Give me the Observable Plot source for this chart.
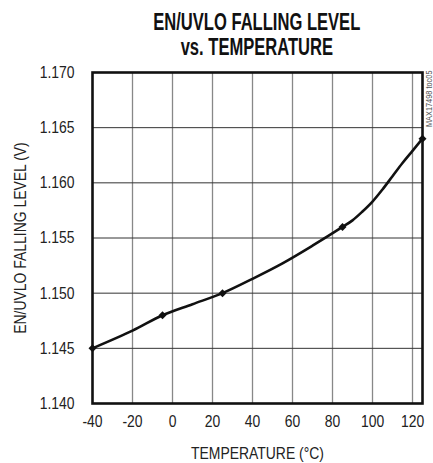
<!DOCTYPE html>
<html>
<head>
<meta charset="utf-8">
<script src="https://cdn.jsdelivr.net/npm/d3@7"></script>
<script src="https://cdn.jsdelivr.net/npm/@observablehq/plot@0.6"></script>
<style>
  html, body { margin: 0; padding: 0; background: #fff; }
  body { width: 433px; height: 463px; overflow: hidden; }
  #title {
    box-sizing: border-box;
    height: 60px;
    padding: 10px 0 0 80px;
    font-family: "Liberation Sans", Arial, sans-serif;
    font-weight: bold;
    font-size: 23px;
    line-height: 25px;
    color: #111;
  }
  #title div { text-align: center; white-space: nowrap; }
  #title span { display: inline-block; transform: scaleX(0.72); transform-origin: 50% 50%; }
  #chart svg { display: block; }
</style>
</head>
<body>
<div id="title"><div><span>EN/UVLO FALLING LEVEL</span></div><div><span>vs. TEMPERATURE</span></div></div>
<div id="chart"></div>
<script>
// Smooth curve (temperature °C, level V)
const curveTemp = [-40, -20, -5, 10, 25, 40, 55, 70, 85, 90, 95, 100, 105, 110, 115, 120, 125];
const curveVolt = [1.1450, 1.1466, 1.1480, 1.1490, 1.1500, 1.1513, 1.1527, 1.1543, 1.1560, 1.1566, 1.1574, 1.1583, 1.1594, 1.1606, 1.1618, 1.1629, 1.1640];
// Measured points (diamond markers)
const markerTemp = [-40, -5, 25, 85, 125];
const markerVolt = [1.145, 1.148, 1.150, 1.156, 1.164];
// Axis ticks
const xTicks = [-40, -20, 0, 20, 40, 60, 80, 100, 120];
const yTicks = [1.140, 1.145, 1.150, 1.155, 1.160, 1.165, 1.170];
const watermark = ["MAX17498 toc05"];

const curve = curveTemp.map((t, i) => ({t, v: curveVolt[i]}));
const markers = markerTemp.map((t, i) => ({t, v: markerVolt[i]}));

const font = '"Liberation Sans", Arial, sans-serif';

const chart = Plot.plot({
  width: 433,
  height: 403,
  marginLeft: 92,
  marginRight: 11,
  marginTop: 12,
  marginBottom: 60,
  style: {fontFamily: font, fontSize: "17px", color: "#222", background: "#fff"},
  x: {domain: [-40, 125]},
  y: {domain: [1.140, 1.170]},
  marks: [
    Plot.ruleX(xTicks.filter(d => d > -40), {stroke: "#888", strokeWidth: 1.3}),
    Plot.ruleY(yTicks.filter(d => d > 1.140 && d < 1.170), {stroke: "#333", strokeWidth: 1}),
    Plot.line(curve, {x: "t", y: "v", curve: "catmull-rom", stroke: "#111", strokeWidth: 2.6}),
    Plot.dot(markers, {x: "t", y: "v", symbol: "diamond2", r: 3.6, fill: "#111", stroke: "none"}),
    Plot.frame({stroke: "#111", strokeWidth: 2.6}),
    Plot.axisX({ticks: xTicks, tickSize: 0, tickPadding: 11, tickFormat: d => String(d),
      label: "TEMPERATURE (°C)", labelAnchor: "center", labelArrow: "none", labelOffset: 55, fontSize: 17}),
    Plot.axisY({ticks: yTicks, tickSize: 0, tickPadding: 18, tickFormat: d3.format(".3f"),
      label: "EN/UVLO FALLING LEVEL (V)", labelAnchor: "center", labelArrow: "none", labelOffset: 79, fontSize: 17}),
    Plot.text(watermark, {frameAnchor: "top-right", text: d => d, rotate: -90, textAnchor: "end",
      dx: 3, dy: -2, fontSize: 9, fill: "#555"})
  ]
});

// Condense all texts horizontally (narrow typeface look), about each text's anchor
chart.querySelectorAll("text").forEach(t => {
  const tr = t.getAttribute("transform");
  if (tr) {
    t.setAttribute("transform", tr + " scale(0.82,1)");
  } else {
    const x = +(t.getAttribute("x") || 0), y = +(t.getAttribute("y") || 0);
    t.setAttribute("x", 0); t.setAttribute("y", 0);
    t.setAttribute("transform", `translate(${x},${y}) scale(0.82,1)`);
  }
});
document.getElementById("chart").appendChild(chart);
</script>
</body>
</html>
